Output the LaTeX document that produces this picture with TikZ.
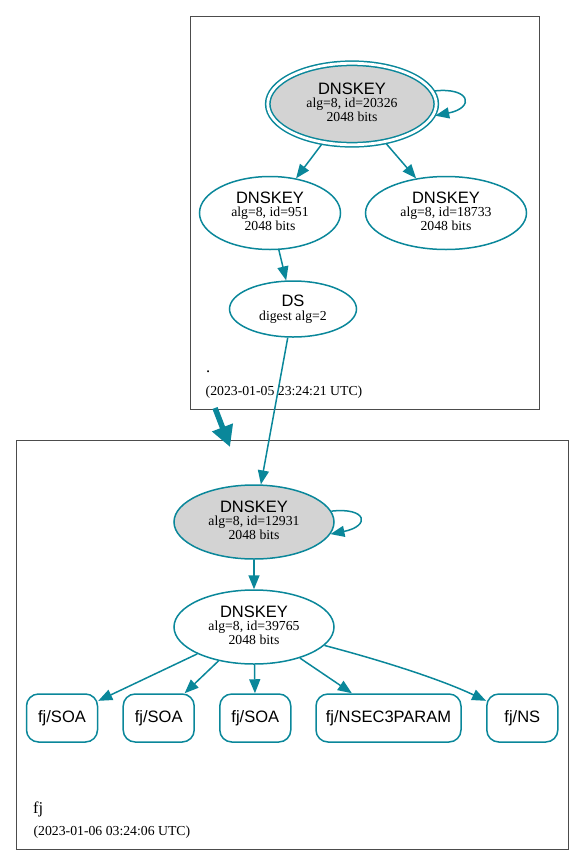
\documentclass[tikz,border=0pt]{standalone}
\usepackage{fontspec}
\setmainfont{Liberation Serif}
\setsansfont{Liberation Sans}
\usetikzlibrary{arrows.meta,shapes.geometric}
\definecolor{edgec}{HTML}{0A879A}
\definecolor{keyfill}{HTML}{D3D3D3}
\newcommand{\hvfont}{\sffamily\fontsize{16.5}{16.5}\selectfont}
\newcommand{\tmfont}{\rmfamily\fontsize{13.75}{12.5}\selectfont}
\newcommand{\tmbig}{\rmfamily\fontsize{16.5}{16.5}\selectfont}
\begin{document}
\begin{tikzpicture}[x=1pt,y=-1pt,
  keynode/.style={ellipse, draw=edgec, line width=1.5pt, inner sep=0pt, align=center, font=\tmfont},
  rrbox/.style={rectangle, rounded corners=12pt, draw=edgec, line width=1.5pt, minimum height=48pt, inner sep=0pt, font=\hvfont},
  edge/.style={draw=edgec, line width=1.5pt, -{Triangle[length=14pt,width=11pt]}},
  cluster/.style={draw=black!70, line width=0.9pt},
  lbl/.style={anchor=base west, inner sep=0pt}
]
\useasboundingbox (0,0) rectangle (584,865);
% clusters
\draw[cluster] (190,16) rectangle (539,409);
\draw[cluster] (16,440) rectangle (568,849);

% top zone
\node[keynode, fill=keyfill, double=white, double distance=2.8pt, outer sep=2.2pt,
      minimum width=168.5pt, minimum height=81.5pt] (k1) at (352,104)
  {{\hvfont DNSKEY}\\[1pt] alg=8, id=20326\\ 2048 bits\rule[-4pt]{0pt}{0pt}};
\node[keynode, minimum width=141pt, minimum height=73pt] (d951) at (270,213)
  {{\hvfont DNSKEY}\\[1pt] alg=8, id=951\\ 2048 bits\rule[-4pt]{0pt}{0pt}};
\node[keynode, minimum width=161pt, minimum height=73pt] (d18733) at (446,213)
  {{\hvfont DNSKEY}\\[1pt] alg=8, id=18733\\ 2048 bits\rule[-4pt]{0pt}{0pt}};
\node[keynode, minimum width=127pt, minimum height=56pt] (ds) at (293,309)
  {{\hvfont DS}\\[1pt] digest alg=2};

\node[lbl, font=\tmbig] (rootlbl) at (206,372) {.};
\node[lbl, font=\tmfont] (rootdate) at (205.5,395) {(2023-01-05 23:24:21 UTC)};

% bottom zone
\node[keynode, fill=keyfill, minimum width=160pt, minimum height=74pt] (k2) at (254,522)
  {{\hvfont DNSKEY}\\[1pt] alg=8, id=12931\\ 2048 bits\rule[-4pt]{0pt}{0pt}};
\node[keynode, minimum width=160pt, minimum height=74pt] (k3) at (254,627)
  {{\hvfont DNSKEY}\\[1pt] alg=8, id=39765\\ 2048 bits\rule[-4pt]{0pt}{0pt}};

\node[rrbox, minimum width=71pt] (soa1) at (62,718) {fj/SOA};
\node[rrbox, minimum width=71pt] (soa2) at (158.7,718) {fj/SOA};
\node[rrbox, minimum width=71pt] (soa3) at (255.3,718) {fj/SOA};
\node[rrbox, minimum width=145pt] (nsec) at (388.5,718) {fj/NSEC3PARAM};
\node[rrbox, minimum width=71pt] (ns) at (522.3,718) {fj/NS};

\node[lbl, font=\tmbig] (fjlbl) at (33,813) {fj};
\node[lbl, font=\tmfont] (fjdate) at (33.4,835) {(2023-01-06 03:24:06 UTC)};

% edges
\draw[edge] (k1.9) .. controls +(36,-4) and +(40,-8) .. (k1.-8);
\draw[edge] (k1) -- (d951);
\draw[edge] (k1) -- (d18733);
\draw[edge] (d951) -- (ds);
\draw[edge] (ds) -- (k2);
\draw[edge] (k2.8) .. controls +(36,-4) and +(40,-8) .. (k2.-9);
\draw[edge] (k2) -- (k3);
\draw[edge] (k3) -- (soa1);
\draw[edge] (k3) -- (soa2);
\draw[edge] (k3) -- (soa3);
\draw[edge] (k3) -- (nsec);
\draw[edge] (k3) .. controls (380,660) and (440,679) .. (ns);

% delegation arrow
\coordinate (dla) at (215,408);
\coordinate (dlb) at (230,447);
\draw[edgec, line width=5.5pt, -{Triangle[length=21pt,width=21pt]}] (dla) -- (dlb);
\end{tikzpicture}
\end{document}
